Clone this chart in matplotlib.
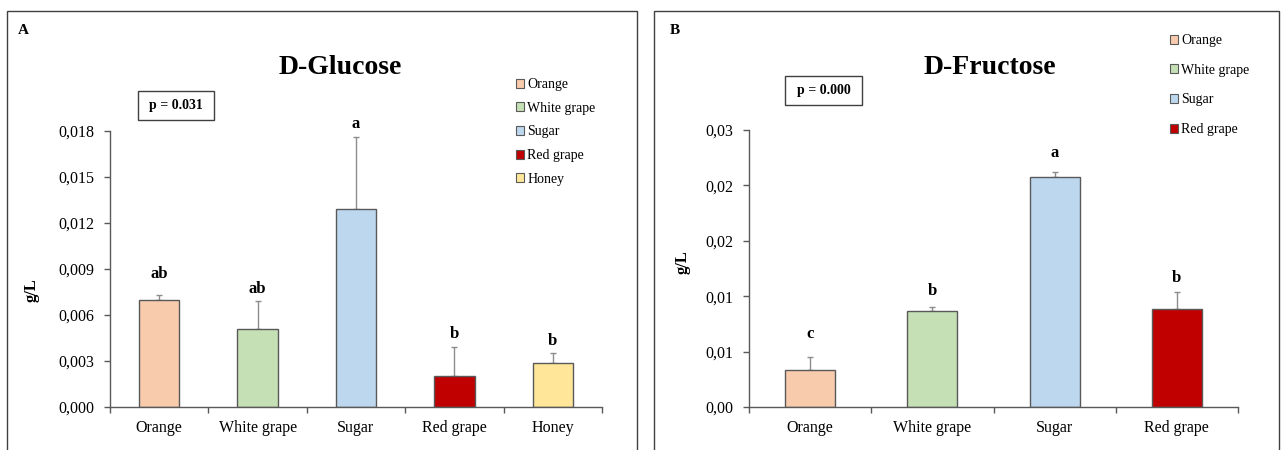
import matplotlib
matplotlib.use("Agg")
import matplotlib.pyplot as plt
from matplotlib.patches import Rectangle, Patch
import numpy as np

plt.rcParams['font.family'] = ['Liberation Serif', 'DejaVu Serif']

# ---------------- data ----------------
glu_categories = ["Orange", "White grape", "Sugar", "Red grape", "Honey"]
glu_means = [0.0070, 0.0051, 0.0129, 0.0020, 0.0029]
glu_sd = [0.0003, 0.0018, 0.0047, 0.0019, 0.0006]
glu_letters = ["ab", "ab", "a", "b", "b"]
glu_yticks = [0.000, 0.003, 0.006, 0.009, 0.012, 0.015, 0.018]
glu_ytick_labels = ["0,000", "0,003", "0,006", "0,009", "0,012", "0,015", "0,018"]
glu_p = "p = 0.031"

fru_categories = ["Orange", "White grape", "Sugar", "Red grape"]
fru_means = [0.0033, 0.0087, 0.0208, 0.0088]
fru_sd = [0.0012, 0.0003, 0.0004, 0.0016]
fru_letters = ["c", "b", "a", "b"]
fru_yticks = [0.000, 0.005, 0.010, 0.015, 0.020, 0.025]
fru_ytick_labels = ["0,00", "0,01", "0,01", "0,02", "0,02", "0,03"]
fru_p = "p = 0.000"

colors = {"Orange": "#F8CBAD", "White grape": "#C5E0B4", "Sugar": "#BDD7EE",
          "Red grape": "#C00000", "Honey": "#FFE699"}

W, H = 1285, 450
fig = plt.figure(figsize=(W / 100, H / 100), dpi=100)
fig.patch.set_facecolor("white")


def fx(x):
    return x / W


def fy(y):
    return 1 - y / H


def panel(ax_box, cats, means, sds, letters, yticks, ylabels, letter_off):
    l, r, b, t = ax_box
    ax = fig.add_axes([fx(l), fy(b), fx(r - l), (b - t) / H])
    n = len(cats)
    x = np.arange(n)
    ax.bar(x, means, width=0.41, color=[colors[c] for c in cats],
           edgecolor="#595959", linewidth=1.0, zorder=2)
    ax.errorbar(x, means, yerr=[np.zeros(n), sds], fmt="none",
                ecolor="#8c8c8c", elinewidth=1.0, capsize=2.5, capthick=1.0, zorder=1)
    ax.set_xlim(-0.5, n - 0.5)
    ax.set_ylim(yticks[0], yticks[-1])
    ax.set_yticks(yticks)
    ax.set_yticklabels(ylabels)
    ax.set_xticks(np.arange(n + 1) - 0.5)
    ax.set_xticklabels([])
    ax.set_xticks(x, minor=True)
    ax.set_xticklabels(cats, minor=True)
    ax.tick_params(axis="x", which="major", direction="out", length=4,
                   color="#595959", width=1)
    ax.tick_params(axis="x", which="minor", length=0, pad=9, labelsize=11.5)
    ax.tick_params(axis="y", direction="out", length=4, color="#595959",
                   width=1, pad=7, labelsize=11.5)
    for s in ["top", "right"]:
        ax.spines[s].set_visible(False)
    for s in ["left", "bottom"]:
        ax.spines[s].set_color("#595959")
        ax.spines[s].set_linewidth(1.0)
    ax.set_facecolor("none")
    for i in range(n):
        ax.annotate(letters[i], (x[i], means[i] + sds[i]),
                    xytext=(0, letter_off[i]), textcoords="offset pixels",
                    ha="center", va="center", fontsize=12, fontweight="bold")
    return ax


# panel borders
for (x0, x1) in [(7, 637), (654, 1279)]:
    fig.add_artist(Rectangle((fx(x0), fy(470)), fx(x1 - x0), (470 - 11) / H,
                             transform=fig.transFigure, fill=False,
                             edgecolor="#404040", linewidth=1.0))

axA = panel((110, 602, 407, 131), glu_categories, glu_means, glu_sd,
            glu_letters, glu_yticks, glu_ytick_labels, [21, 12, 13, 13, 12])
axB = panel((749, 1238, 407, 130), fru_categories, fru_means, fru_sd,
            fru_letters, fru_yticks, fru_ytick_labels, [23, 16, 19, 14])

# panel letters, titles, y labels
fig.text(fx(23), fy(30), "A", fontsize=11, fontweight="bold", ha="center", va="center")
fig.text(fx(675), fy(31), "B", fontsize=11, fontweight="bold", ha="center", va="center")
fig.text(fx(340), fy(68), "D-Glucose", fontsize=20, fontweight="bold", ha="center", va="center")
fig.text(fx(990), fy(68), "D-Fructose", fontsize=20, fontweight="bold", ha="center", va="center")
fig.text(fx(32), fy(290), "g/L", fontsize=12, fontweight="bold", rotation=90,
         ha="center", va="center")
fig.text(fx(683), fy(262), "g/L", fontsize=12, fontweight="bold", rotation=90,
         ha="center", va="center")

# p-value boxes
for (x0, y0, x1, y1, txt) in [(138, 91, 214, 120, glu_p), (785, 76, 862, 105, fru_p)]:
    fig.add_artist(Rectangle((fx(x0), fy(y1)), fx(x1 - x0), (y1 - y0) / H,
                             transform=fig.transFigure, fill=False,
                             edgecolor="#404040", linewidth=1.0))
    fig.text(fx((x0 + x1) / 2), fy((y0 + y1) / 2), txt, fontsize=10,
             fontweight="bold", ha="center", va="center")

# legends
def legend(ax, cats, x0, y0, spacing):
    handles = [Patch(facecolor=colors[c], edgecolor="#595959", linewidth=0.8) for c in cats]
    ax.legend(handles, cats, loc="upper left", bbox_to_anchor=(fx(x0), fy(y0)),
              bbox_transform=fig.transFigure, frameon=False, fontsize=10,
              handlelength=0.6, handleheight=0.6, handletextpad=0.2,
              labelspacing=spacing, borderpad=0, borderaxespad=0)

legend(axA, glu_categories, 516, 78, 0.77)
legend(axB, fru_categories, 1170, 34, 1.2)

fig.savefig("out.png", dpi=100, facecolor="white")
